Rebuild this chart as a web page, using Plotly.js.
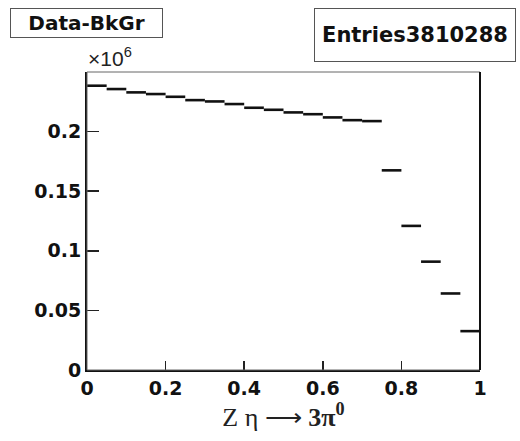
<!DOCTYPE html>
<html>
<head>
<meta charset="utf-8">
<script src="https://cdn.plot.ly/plotly-3.0.1.min.js"></script>
<style>
  html, body { margin: 0; padding: 0; background: #fff; }
  #plot { width: 520px; height: 441px; }
</style>
</head>
<body>
<div id="plot"></div>
<script>
// Histogram of Z(eta -> 3pi0), data minus background, 20 bins on [0, 1]
const binLow = 0.0;
const binHigh = 1.0;
// bin contents in units of 10^6 entries
const binContents = [
  0.2385, 0.2357, 0.2329, 0.2315, 0.2292,
  0.2264, 0.2253, 0.2231, 0.2200, 0.2183,
  0.2161, 0.2146, 0.2119, 0.2096, 0.2088,
  0.1675, 0.1209, 0.0909, 0.0642, 0.0326
];
const xTickVals = [0, 0.2, 0.4, 0.6, 0.8, 1];
const xTickText = ['0', '0.2', '0.4', '0.6', '0.8', '1'];
const yTickVals = [0, 0.05, 0.1, 0.15, 0.2];
const yTickText = ['0', '0.05', '0.1', '0.15', '0.2'];
const histTitle = 'Data-BkGr';
const entriesText = 'Entries3810288';

// each bin is drawn as a horizontal segment across its width
const nBins = binContents.length;
const width = (binHigh - binLow) / nBins;
const segX = [], segY = [];
binContents.forEach((v, i) => {
  const lo = binLow + i * width;
  segX.push(lo, lo + width, null);
  segY.push(v, v, null);
});

const tickFont = { family: 'DejaVu Sans', size: 19, color: '#111', weight: 'bold' };

const trace = {
  x: segX, y: segY, type: 'scatter', mode: 'lines',
  line: { color: '#111', width: 2.6 },
  connectgaps: false, hoverinfo: 'skip', showlegend: false
};

const layout = {
  width: 520, height: 441,
  margin: { l: 87, r: 40, t: 72, b: 71 },
  paper_bgcolor: '#fff', plot_bgcolor: '#fff',
  showlegend: false,
  xaxis: {
    range: [binLow, binHigh], tickmode: 'array', tickvals: xTickVals, ticktext: xTickText,
    ticks: 'inside', ticklen: 9, tickwidth: 1.5, tickcolor: '#222',
    showline: true, linecolor: '#111', linewidth: 2, mirror: false,
    showgrid: false, zeroline: false, tickfont: tickFont,
    title: {
      text: 'Z η ⟶ <b>3π</b><sup><b>0</b></sup>',
      font: { family: 'Liberation Serif', size: 26, color: '#222' },
      standoff: 10
    }
  },
  yaxis: {
    range: [0, 0.25], tickmode: 'array', tickvals: yTickVals, ticktext: yTickText,
    ticks: 'inside', ticklen: 12, tickwidth: 1.5, tickcolor: '#222',
    showline: true, linecolor: '#111', linewidth: 2, mirror: false,
    showgrid: false, zeroline: false, tickfont: tickFont
  },
  shapes: [
    { type: 'rect', xref: 'paper', yref: 'paper', x0: 0, x1: 1, y0: 0, y1: 1,
      line: { color: '#666', width: 1 } },
    { type: 'line', xref: 'paper', yref: 'paper', x0: 1, x1: 1, y0: 0, y1: 1,
      line: { color: '#111', width: 2 } }
  ],
  annotations: [
    { text: histTitle, xref: 'paper', yref: 'paper', x: -0.196, y: 1.2155,
      xanchor: 'left', yanchor: 'top', showarrow: false,
      width: 151, height: 28, align: 'center', valign: 'middle',
      bordercolor: '#555', borderwidth: 1, borderpad: 0,
      font: { family: 'DejaVu Sans', size: 20, color: '#111', weight: 'bold' } },
    { text: entriesText, xref: 'paper', yref: 'paper', x: 0.5776, y: 1.2155,
      xanchor: 'left', yanchor: 'top', showarrow: false,
      width: 200, height: 52, align: 'center', valign: 'middle',
      bordercolor: '#555', borderwidth: 1, borderpad: 0,
      font: { family: 'DejaVu Sans', size: 21, color: '#111', weight: 'bold' } },
    { text: '×10<sup>6</sup>', xref: 'paper', yref: 'paper', x: -0.003, y: 1.0,
      xanchor: 'left', yanchor: 'bottom', showarrow: false,
      font: { family: 'Liberation Sans', size: 21, color: '#222' } }
  ]
};

Plotly.newPlot('plot', [trace], layout, { staticPlot: true, displayModeBar: false });
</script>
</body>
</html>
